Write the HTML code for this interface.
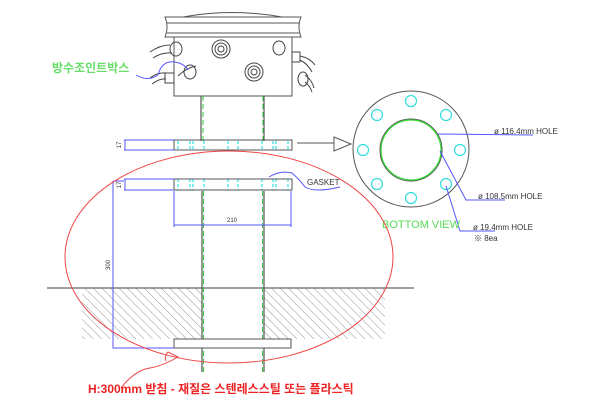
<!DOCTYPE html>
<html><head><meta charset="utf-8"><style>
html,body{margin:0;padding:0;background:#fff;width:600px;height:400px;overflow:hidden}
svg{display:block}
text{font-family:"Liberation Sans","Noto Sans CJK KR",sans-serif}
</style></head><body>
<svg width="600" height="400" viewBox="0 0 600 400" xmlns="http://www.w3.org/2000/svg">
<defs>
<pattern id="h" width="6" height="6" patternUnits="userSpaceOnUse" patternTransform="rotate(-45)">
<line x1="0" y1="0" x2="0" y2="6" stroke="#777" stroke-width="0.8"/>
</pattern>
</defs>
<!-- hatch -->
<rect x="82" y="288" width="120" height="51" fill="url(#h)"/>
<rect x="264" y="288" width="121" height="51" fill="url(#h)"/>
<line x1="47" y1="288" x2="414" y2="288" stroke="#666" stroke-width="1.2"/>
<!-- box -->
<path d="M183 17 Q232 8 282 17" fill="none" stroke="#555"/>
<path d="M165 17 H301 Q297 27 301 37 H165 Q169 27 165 17 Z" fill="#fff" stroke="#555"/>
<line x1="167" y1="23" x2="299" y2="23" stroke="#555"/>
<line x1="167" y1="33" x2="299" y2="33" stroke="#555"/>
<rect x="174" y="37" width="118" height="59" fill="#fff" stroke="#555"/>
<g fill="none" stroke="#444">
<circle cx="221" cy="49" r="9"/><circle cx="221" cy="49" r="6"/><circle cx="221" cy="49" r="3"/>
<circle cx="254" cy="72" r="9"/><circle cx="254" cy="72" r="6"/><circle cx="254" cy="72" r="3"/>
<ellipse cx="176" cy="49" rx="6" ry="7"/><ellipse cx="190" cy="72" rx="6" ry="7"/>
<ellipse cx="279" cy="48" rx="6" ry="7"/><ellipse cx="303" cy="79" rx="5" ry="7"/>
<rect x="165" y="73" width="9" height="10"/><rect x="292" y="52" width="8" height="10"/>
<path d="M150 52 Q160 45 170 45 M153 58 Q162 52 172 53 M150 78 Q158 72 166 73 M152 84 Q160 78 166 79 M178 76 Q186 68 196 66 M300 56 Q310 58 315 65 M300 60 Q308 64 312 72 M305 75 Q312 80 314 88 M305 82 Q310 86 312 92"/>
</g>
<!-- pole -->
<g stroke="#555" stroke-width="1.2"><line x1="201" y1="96" x2="201" y2="141"/><line x1="264" y1="96" x2="264" y2="141"/>
<line x1="202" y1="191" x2="202" y2="372"/><line x1="264" y1="191" x2="264" y2="372"/></g>
<g stroke="#3c3" stroke-dasharray="5,3"><line x1="203" y1="96" x2="203" y2="141"/><line x1="263" y1="96" x2="263" y2="141"/>
<line x1="203.5" y1="191" x2="203.5" y2="372"/><line x1="262.5" y1="191" x2="262.5" y2="372"/></g>
<!-- flanges -->
<g stroke="#0dd" stroke-dasharray="3,2">
<path d="M178 141V150M190 141V150M193 141V150M204 141V150M228 141V150M238 141V150M262 141V150M273 141V150M276 141V150M288 141V150"/>
<path d="M178 179V190M190 179V190M193 179V190M204 179V190M228 179V190M238 179V190M262 179V190M273 179V190M276 179V190M288 179V190"/>
</g>
<rect x="174" y="140" width="118" height="10" fill="none" stroke="#555"/>
<rect x="174" y="179" width="118" height="11" fill="none" stroke="#555"/>
<rect x="174" y="339" width="117" height="9" fill="#fff" stroke="#555"/>
<!-- dims -->
<g stroke="#55f" fill="none">
<path d="M124 140H174M124 150H174M125 140V150"/>
<path d="M124 179H174M124 190H174M125 179V190"/>
<path d="M113 181V348H174M113 181H124"/>
<path d="M174 191V227M291 191V227M174 225H291"/>
<path d="M269 177 Q280 170 292 173 Q300 180 305 187 Q315 193 340 187"/>
<path d="M136 75 Q148 82 158 75 Q162 60 175 62 Q185 64 188 70"/>
</g>
<text x="121" y="145" font-size="6" fill="#333" transform="rotate(-90 121 145)" text-anchor="middle">17</text>
<text x="121" y="185" font-size="6" fill="#333" transform="rotate(-90 121 185)" text-anchor="middle">17</text>
<text x="110" y="265" font-size="6" fill="#333" transform="rotate(-90 110 265)" text-anchor="middle">300</text>
<text x="232" y="222" font-size="6" fill="#333" text-anchor="middle">210</text>
<text x="307" y="185" font-size="8" fill="#333">GASKET</text>
<!-- arrow -->
<line x1="297" y1="143" x2="334" y2="143" stroke="#555"/>
<path d="M334 137 L351 144 L334 151 Z" fill="#fff" stroke="#555"/>
<!-- bottom view -->
<circle cx="411" cy="149" r="58" fill="none" stroke="#555"/>
<circle cx="411" cy="150" r="31" fill="none" stroke="#555"/>
<circle cx="411" cy="150" r="30" fill="none" stroke="#3d3" stroke-width="1.2"/>
<g fill="none" stroke="#3dd" stroke-width="1.2">
<circle cx="411" cy="101" r="5.5"/><circle cx="446" cy="115" r="5.5"/><circle cx="460" cy="150" r="5.5"/><circle cx="446" cy="184" r="5.5"/>
<circle cx="411" cy="198" r="5.5"/><circle cx="377" cy="184" r="5.5"/><circle cx="363" cy="150" r="5.5"/><circle cx="377" cy="115" r="5.5"/>
</g>
<g stroke="#55f" fill="none">
<path d="M438 134L533 135M440 151L466 200H505M446 186L460 231H495"/>
</g>
<g font-size="8" fill="#333">
<text x="494" y="134">ø 116.4mm HOLE</text>
<text x="478" y="199">ø 108.5mm HOLE</text>
<text x="473" y="230">ø 19.4mm HOLE</text>
<text x="474" y="241">※ 8ea</text>
</g>
<text x="382" y="228" font-size="11" fill="#5d5">BOTTOM VIEW</text>
<!-- ellipse -->
<ellipse cx="229" cy="257" rx="164" ry="106" fill="none" stroke="#e44" stroke-width="1"/>
<path d="M121 388 Q135 370 150 368 Q162 366 178 357 L168 352 Q164 356 166 361" fill="none" stroke="#e44"/>
<text x="52" y="72" font-size="12" font-weight="bold" fill="#6d6">방수조인트박스</text>
<text x="88" y="393" font-size="12" font-weight="bold" fill="#e22">H:300mm 받침 - 재질은 스텐레스스틸 또는 플라스틱</text>
</svg>
</body></html>
